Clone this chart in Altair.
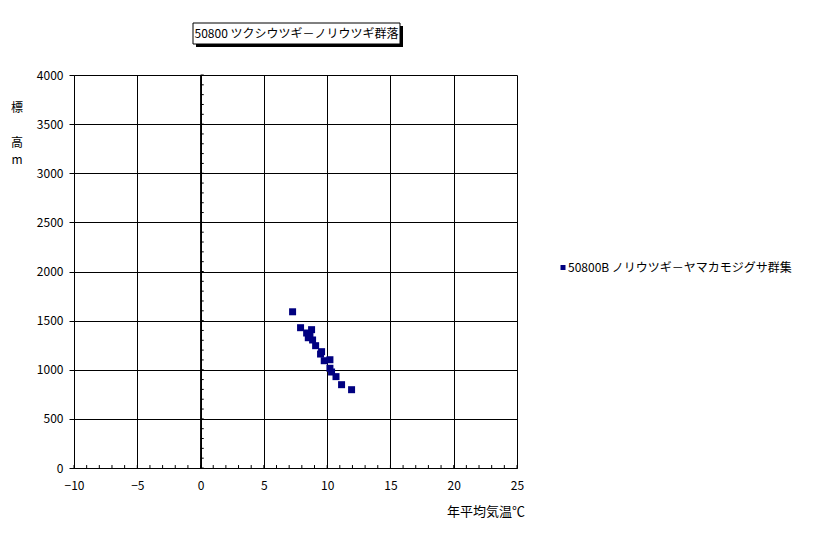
import altair as alt
import pandas as pd

# ---- data ----
temp = [7.27, 7.9, 8.77, 8.38, 8.64, 8.51, 8.85, 9.09, 9.56, 9.48, 9.77, 10.22, 10.22, 10.35, 10.7, 11.14, 11.93]
elev = [1590, 1428, 1408, 1374, 1354, 1326, 1303, 1245, 1184, 1160, 1092, 1102, 1015, 977, 930, 848, 797]

x_ticks = list(range(-10, 26, 5))
y_ticks = list(range(0, 4001, 500))
x_minor = list(range(-10, 26, 1))
y_minor = list(range(0, 4001, 100))

title_text = "50800 ツクシウツギ－ノリウツギ群落"
legend_text = "50800B ノリウツギ－ヤマカモジグサ群集"
x_title = "年平均気温℃"
y_title_chars = ["標", "高", "m"]

FONT = "Noto Sans CJK JP"
NAVY = "#000080"

pts = pd.DataFrame({"temp": temp, "elev": elev})
xm = pd.DataFrame({"v": x_minor})
ym = pd.DataFrame({"v": y_minor})
one = pd.DataFrame({"t": [0]})

xscale = alt.Scale(domain=[-10, 25], nice=False, zero=False)
yscale = alt.Scale(domain=[0, 4000], nice=False)

base = alt.Chart(pts).mark_square(size=49, filled=True, color=NAVY, opacity=1).encode(
    x=alt.X("temp:Q", scale=xscale,
            axis=alt.Axis(values=x_ticks, title=None, grid=True, gridColor="black", gridOpacity=1,
                          ticks=False, labelPadding=12, domainColor="black", labelFont=FONT,
                          labelFontSize=12, labelColor="black", labelFlush=False, format="d")),
    y=alt.Y("elev:Q", scale=yscale,
            axis=alt.Axis(values=y_ticks, title=None, grid=True, gridColor="black", gridOpacity=1,
                          ticks=True, tickSize=5, tickColor="black", labelPadding=6,
                          domainColor="black", labelFont=FONT, labelFontSize=12,
                          labelColor="black", format="d")),
)

xminor = alt.Chart(xm).mark_rule(color="black", strokeWidth=1).encode(
    x=alt.X("v:Q", scale=xscale), y=alt.datum(0), y2=alt.datum(30))
yminor = alt.Chart(ym).mark_rule(color="black", strokeWidth=1).encode(
    y=alt.Y("v:Q", scale=yscale), x=alt.datum(0), x2=alt.datum(0.25))
zero_line = alt.Chart(one).mark_rule(color="black", strokeWidth=1).encode(
    x=alt.datum(0), y=alt.datum(0), y2=alt.datum(4000))

shadow = alt.Chart(one).mark_rect(fill="black").encode(
    x=alt.value(122), x2=alt.value(329), y=alt.value(-49), y2=alt.value(-28))
box = alt.Chart(one).mark_rect(fill="white", stroke="black", strokeWidth=1).encode(
    x=alt.value(119), x2=alt.value(326), y=alt.value(-52), y2=alt.value(-31))
title = alt.Chart(pd.DataFrame({"t": [title_text]})).mark_text(
    font=FONT, fontSize=12, color="black", align="center", baseline="middle").encode(
    x=alt.value(222.5), y=alt.value(-41.5), text="t:N")

leg_mark = alt.Chart(one).mark_square(size=25, filled=True, color=NAVY, opacity=1).encode(
    x=alt.value(489), y=alt.value(192.5))
leg_text = alt.Chart(pd.DataFrame({"t": [legend_text]})).mark_text(
    font=FONT, fontSize=12, color="black", align="left", baseline="middle").encode(
    x=alt.value(494), y=alt.value(192.5), text="t:N")

xt = alt.Chart(pd.DataFrame({"t": [x_title]})).mark_text(
    font=FONT, fontSize=13, color="black", align="right", baseline="middle").encode(
    x=alt.value(451), y=alt.value(437), text="t:N")

yt_layers = []
for ch, yy in zip(y_title_chars, [33, 68, 85]):
    yt_layers.append(alt.Chart(pd.DataFrame({"t": [ch]})).mark_text(
        font=FONT, fontSize=12, color="black", align="center", baseline="middle").encode(
        x=alt.value(-57), y=alt.value(yy), text="t:N"))

chart = alt.layer(zero_line, xminor, yminor, base, shadow, box, title, leg_mark, leg_text, xt,
                  *yt_layers).properties(
    width=443, height=393,
    autosize=alt.AutoSizeParams(type="none"),
    padding={"left": 66, "top": 67, "right": 291, "bottom": 58},
    background="white",
).configure_view(stroke="transparent")

chart.save("out.html", embed_options={"renderer": "svg", "actions": False})
